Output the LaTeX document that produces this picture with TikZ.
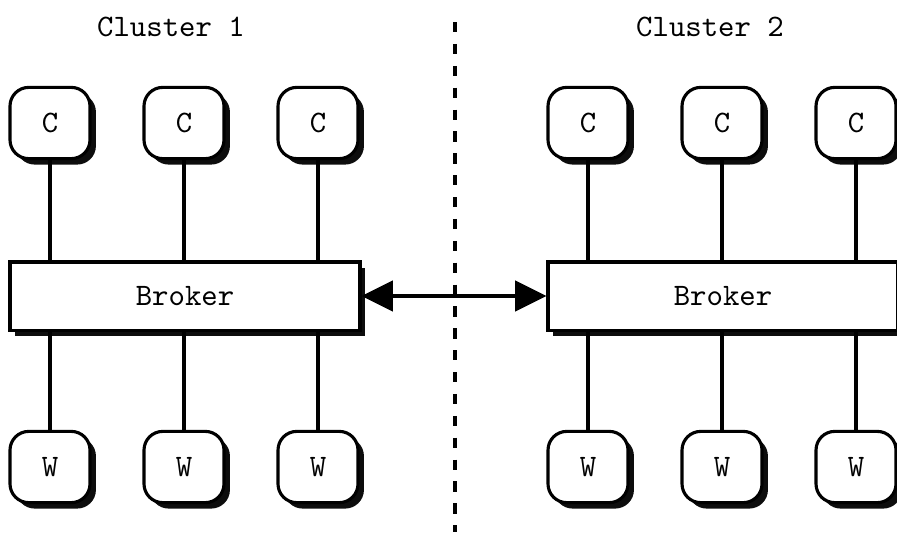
\documentclass[tikz,border=0pt]{standalone}
\usepackage{tikz}
\usetikzlibrary{arrows.meta, shadows}
\tikzset{every picture/.style={/utils/exec={\ttfamily}}}
\tikzset{
  peer/.style={draw, line width=1pt, rounded corners=6pt, fill=white,
    minimum width=25.6pt, minimum height=22.8pt, inner sep=0pt,
    drop shadow={shadow xshift=1.9pt, shadow yshift=-1.9pt, fill=black, opacity=0.95}},
  brokerbox/.style={draw, line width=1pt, fill=white,
    minimum width=112pt, minimum height=21.8pt, inner sep=0pt,
    drop shadow={shadow xshift=1.6pt, shadow yshift=-1.9pt, fill=black, opacity=0.95}},
  link/.style={line width=1pt}
}

\begin{document}
\begin{tikzpicture}[x=0.32pt, y=-0.32pt]
            \useasboundingbox (0,0) rectangle (897,532);

            % cluster separator
            \coordinate (septop) at (455,22);
            \coordinate (sepbot) at (455,532);
            \draw[line width=1.1pt, dash pattern=on 3.3pt off 3.7pt] (septop) -- (sepbot);

            \node (title1) at (171,27) {Cluster 1};
            \node (title2) at (710,27) {Cluster 2};

            \node[brokerbox] (broker1) at (185,296) {Broker};
            \node[brokerbox] (broker2) at (723,296) {Broker};

            \node[peer] (c1) at (50,123) {C};
            \node[peer] (c2) at (184,123) {C};
            \node[peer] (c3) at (318,123) {C};
            \node[peer] (c4) at (588,123) {C};
            \node[peer] (c5) at (722,123) {C};
            \node[peer] (c6) at (856,123) {C};

            \node[peer] (w1) at (50,467) {W};
            \node[peer] (w2) at (184,467) {W};
            \node[peer] (w3) at (318,467) {W};
            \node[peer] (w4) at (588,467) {W};
            \node[peer] (w5) at (722,467) {W};
            \node[peer] (w6) at (856,467) {W};

            \draw[link] (c1) -- (c1 |- broker1.north);
            \draw[link] (c2) -- (c2 |- broker1.north);
            \draw[link] (c3) -- (c3 |- broker1.north);
            \draw[link] (c4) -- (c4 |- broker2.north);
            \draw[link] (c5) -- (c5 |- broker2.north);
            \draw[link] (c6) -- (c6 |- broker2.north);

            \draw[link] (w1) -- (w1 |- broker1.south);
            \draw[link] (w2) -- (w2 |- broker1.south);
            \draw[link] (w3) -- (w3 |- broker1.south);
            \draw[link] (w4) -- (w4 |- broker2.south);
            \draw[link] (w5) -- (w5 |- broker2.south);
            \draw[link] (w6) -- (w6 |- broker2.south);

            % broker to broker
            \draw[line width=1.3pt, {Triangle[length=10pt, width=9.6pt]}-{Triangle[length=10pt, width=9.6pt]}]
                (broker1.east) -- (broker2.west);
        \end{tikzpicture}
\end{document}
